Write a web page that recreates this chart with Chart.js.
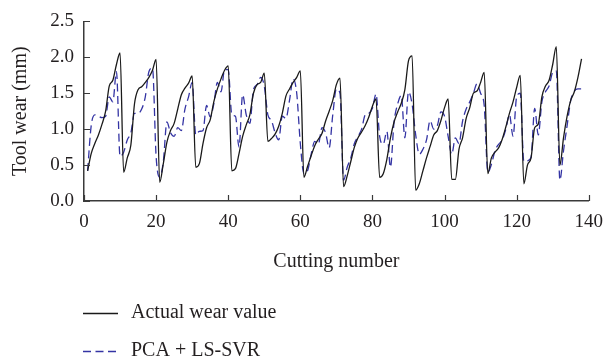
<!DOCTYPE html>
<html>
<head>
<meta charset="utf-8">
<title>Tool wear</title>
<script src="https://cdn.jsdelivr.net/npm/chart.js@4.4.0/dist/chart.umd.min.js"></script>
<style>
  html, body { margin: 0; padding: 0; background: #ffffff; }
  #wrap { width: 613px; height: 363px; position: relative; }
</style>
</head>
<body>
<div id="wrap"><canvas id="wear" width="613" height="363"></canvas></div>
<script>
// Measured tool wear (mm) for cutting numbers 1..138
const actualWear = [
  0.42, 0.66, 0.80, 0.92, 1.07, 1.25, 1.60, 1.68, 1.90, 2.06,
  0.40, 0.60, 0.78, 1.35, 1.55, 1.59, 1.65, 1.72, 1.82, 1.97,
  0.26, 0.52, 0.82, 0.98, 1.08, 1.28, 1.48, 1.57, 1.64, 1.74,
  0.47, 0.52, 0.80, 1.02, 1.13, 1.38, 1.56, 1.70, 1.82, 1.88,
  0.42, 0.45, 0.66, 0.90, 1.06, 1.20, 1.50, 1.62, 1.65, 1.78,
  0.83, 0.87, 0.93, 1.04, 1.22, 1.46, 1.56, 1.65, 1.72, 1.81,
  0.33, 0.48, 0.63, 0.77, 0.86, 0.94, 1.11, 1.25, 1.40, 1.62, 1.71,
  0.20, 0.35, 0.55, 0.75, 0.88, 0.96, 1.05, 1.17, 1.32, 1.42,
  0.33, 0.38, 0.58, 0.88, 1.10, 1.24, 1.36, 1.55, 1.95, 2.02,
  0.15, 0.24, 0.42, 0.60, 0.76, 0.92, 0.98, 1.12, 1.30, 1.42,
  0.30, 0.30, 0.72, 0.88, 1.15, 1.30, 1.50, 1.53, 1.65, 1.79,
  0.38, 0.60, 0.68, 0.74, 0.86, 1.03, 1.22, 1.38, 1.58, 1.75,
  0.24, 0.50, 0.60, 1.02, 1.07, 1.45, 1.60, 1.68, 1.90, 2.15,
  0.50, 0.88, 1.18, 1.40, 1.52, 1.72, 1.98
];

// PCA + LS-SVR predicted wear (mm) for the same cuts
const predictedWear = [
  0.42, 1.05, 1.20, 1.18, 1.16, 1.18, 1.45, 1.38, 1.80, 0.62,
  0.68, 0.85, 0.95, 1.22, 1.22, 1.28, 1.45, 1.80, 1.85, 0.62,
  0.33, 0.55, 1.10, 0.95, 0.90, 1.02, 0.98, 1.28, 1.45, 1.65,
  0.92, 0.97, 0.98, 1.33, 1.17, 1.35, 1.65, 1.52, 1.83, 1.83,
  1.20, 1.18, 0.75, 1.48, 1.20, 1.08, 1.55, 1.62, 1.72, 1.60,
  1.20, 1.12, 0.95, 0.85, 1.18, 1.15, 1.40, 1.70, 1.50, 0.80,
  0.38, 0.42, 0.65, 0.83, 0.79, 1.02, 0.95, 0.74, 1.20, 1.56, 1.50,
  0.29, 0.47, 0.60, 0.80, 0.90, 1.00, 1.20, 1.22, 1.29, 1.49,
  0.90, 0.79, 0.97, 0.47, 1.10, 1.35, 1.47, 0.88, 1.52, 1.35,
  0.92, 0.65, 0.72, 0.85, 1.12, 1.00, 1.05, 1.24, 1.18, 0.90,
  0.65, 0.88, 0.80, 1.11, 1.28, 1.38, 1.50, 1.63, 1.50, 1.33,
  0.40, 0.51, 0.70, 0.79, 0.85, 1.00, 1.20, 0.90, 1.45, 1.50,
  0.55, 0.56, 0.61, 1.29, 0.92, 1.38, 1.52, 1.60, 1.79, 1.81,
  0.29, 0.70, 1.05, 1.40, 1.53, 1.56, 1.56
];

// Cutting numbers run 1, 2, 3, ... alongside the wear readings
const cuttingNumbers = actualWear.map((_, i) => i + 1);

const xTickValues = [0, 20, 40, 60, 80, 100, 120, 140];
const yTickValues = [0.0, 0.5, 1.0, 1.5, 2.0, 2.5];

const seriesNames = ['Actual wear value', 'PCA + LS-SVR'];

const FONT = '"Liberation Serif", "Times New Roman", serif';
const INK = '#231f20';
const AXIS = '#3a3a3a';

const toPoints = (vals) => vals.map((v, i) => ({ x: cuttingNumbers[i], y: v }));

// Short tick marks pointing into the plot, as in the printed figure
const innerTicks = {
  id: 'innerTicks',
  afterDraw(chart) {
    const { ctx, scales: { x, y }, chartArea } = chart;
    ctx.save();
    ctx.strokeStyle = AXIS;
    ctx.lineWidth = 1.2;
    ctx.beginPath();
    x.ticks.forEach(t => {
      const px = Math.round(x.getPixelForValue(t.value)) + 0.5;
      ctx.moveTo(px, chartArea.bottom);
      ctx.lineTo(px, chartArea.bottom - 6);
    });
    y.ticks.forEach(t => {
      const py = Math.round(y.getPixelForValue(t.value)) + 0.5;
      ctx.moveTo(chartArea.left, py);
      ctx.lineTo(chartArea.left + 6, py);
    });
    ctx.stroke();
    ctx.restore();
  }
};

// Legend stacked in two rows below the axis title
const stackedLegend = {
  id: 'stackedLegend',
  afterDraw(chart) {
    const ctx = chart.ctx;
    const rows = [313, 351];
    ctx.save();
    ctx.font = '20px ' + FONT;
    ctx.textBaseline = 'middle';
    ctx.textAlign = 'left';
    chart.data.datasets.forEach((ds, i) => {
      const yy = rows[i] + 0.5;
      ctx.strokeStyle = ds.borderColor;
      ctx.lineWidth = ds.borderWidth;
      ctx.setLineDash(ds.borderDash || []);
      ctx.beginPath();
      ctx.moveTo(83, yy);
      ctx.lineTo(118, yy);
      ctx.stroke();
      ctx.setLineDash([]);
      ctx.fillStyle = INK;
      ctx.fillText(ds.label, 131, rows[i]);
    });
    ctx.restore();
  }
};

new Chart(document.getElementById('wear'), {
  type: 'line',
  data: {
    datasets: [
      {
        label: seriesNames[0],
        data: toPoints(actualWear),
        borderColor: '#1a1a1a',
        borderWidth: 1.3,
        pointRadius: 0,
        cubicInterpolationMode: 'monotone',
        fill: false
      },
      {
        label: seriesNames[1],
        data: toPoints(predictedWear),
        borderColor: '#3434a4',
        borderWidth: 1.3,
        borderDash: [8, 4.5],
        pointRadius: 0,
        cubicInterpolationMode: 'monotone',
        fill: false
      }
    ]
  },
  options: {
    responsive: false,
    animation: false,
    devicePixelRatio: 1,
    layout: { padding: { top: 18, right: 15, bottom: 88, left: 0 } },
    plugins: {
      legend: { display: false },
      tooltip: { enabled: false }
    },
    scales: {
      x: {
        type: 'linear',
        min: 0,
        max: 140,
        afterBuildTicks: (s) => { s.ticks = xTickValues.map(v => ({ value: v })); },
        afterFit: (s) => { s.height = 74; },
        grid: { display: false, drawTicks: false },
        border: { display: true, color: AXIS, width: 1.5 },
        ticks: {
          color: INK,
          font: { family: FONT, size: 19 },
          padding: 10,
          maxRotation: 0,
          callback: (v) => String(v)
        },
        title: {
          display: true,
          text: 'Cutting number',
          color: INK,
          font: { family: FONT, size: 20 },
          padding: { top: 0, bottom: 1 }
        }
      },
      y: {
        type: 'linear',
        min: 0,
        max: 2.5,
        afterBuildTicks: (s) => { s.ticks = yTickValues.map(v => ({ value: v })); },
        afterFit: (s) => { s.width = 84; },
        grid: { display: false, drawTicks: false },
        border: { display: true, color: AXIS, width: 1.5 },
        ticks: {
          color: INK,
          font: { family: FONT, size: 19 },
          padding: 10,
          callback: (v) => Number(v).toFixed(1)
        },
        title: {
          display: true,
          text: 'Tool wear (mm)',
          color: INK,
          font: { family: FONT, size: 20 },
          padding: { top: 9, bottom: 0 }
        }
      }
    }
  },
  plugins: [innerTicks, stackedLegend]
});
</script>
</body>
</html>
